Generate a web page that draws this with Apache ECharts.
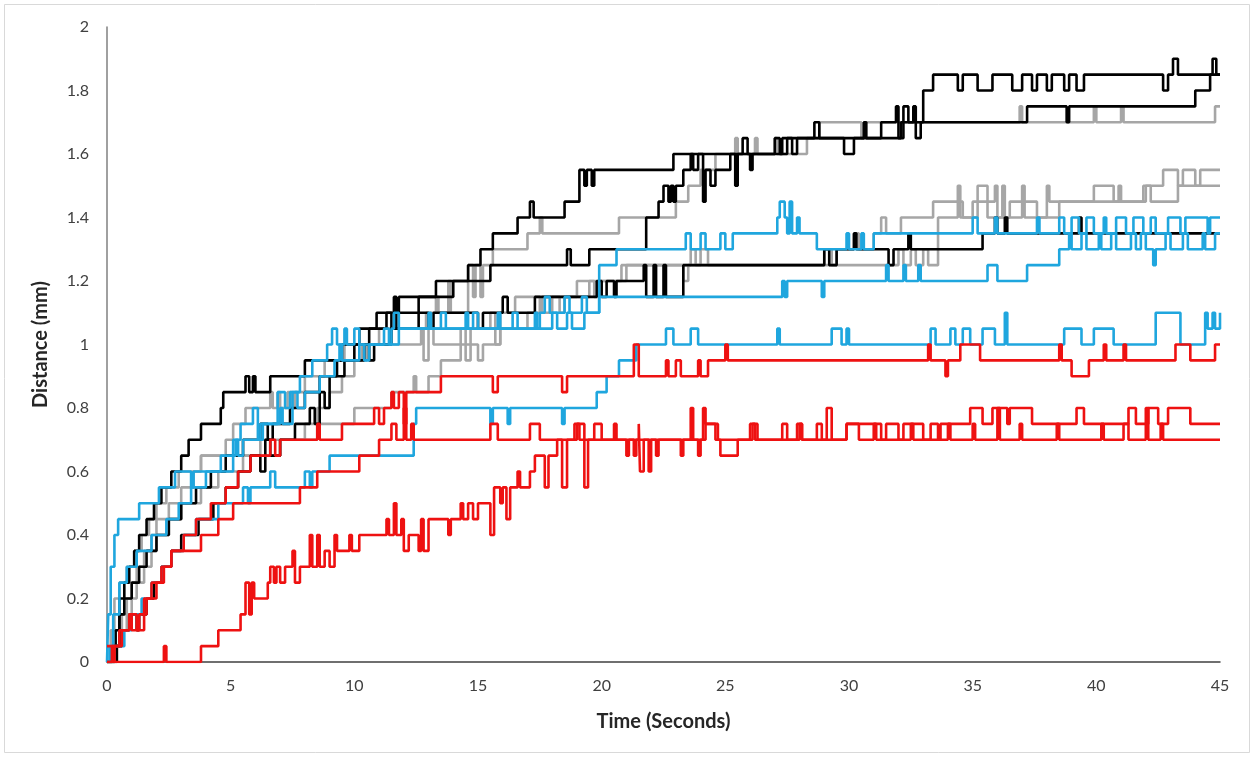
<!DOCTYPE html>
<html>
<head>
<meta charset="utf-8">
<script src="https://cdn.jsdelivr.net/npm/echarts@6/dist/echarts.min.js"></script>
<style>
  html, body { margin: 0; padding: 0; background: #fff; }
  #main { width: 1254px; height: 757px; }
</style>
</head>
<body>
<div id="main"></div>
<script>
// axis ticks
var xTicks = [0, 5, 10, 15, 20, 25, 30, 35, 40, 45];
var yTicks = [0, 0.2, 0.4, 0.6, 0.8, 1, 1.2, 1.4, 1.6, 1.8, 2];

// each run: [time (s), distance (mm)] at the moments the value changes
var black1 = [[0,0],[0.2,0.05],[0.35,0.1],[0.5,0.2],[0.7,0.25],[0.9,0.3],[1.1,0.35],[1.3,0.4],[1.6,0.45],[1.9,0.5],[2.2,0.55],[2.6,0.6],[3.0,0.65],[3.3,0.7],[3.8,0.75],[4.6,0.8],[4.7,0.85],[5.6,0.9],[5.75,0.85],[5.9,0.9],[6.0,0.85],[6.6,0.9],[8.0,0.95],[9.5,1.0],[10.2,1.05],[10.9,1.1],[11.6,1.15],[11.7,1.1],[11.8,1.15],[13.3,1.2],[14.6,1.25],[15.1,1.3],[15.6,1.35],[16.6,1.4],[17.1,1.45],[17.25,1.4],[18.5,1.45],[19.1,1.55],[19.3,1.5],[19.4,1.55],[19.6,1.5],[19.7,1.55],[22.9,1.6],[25.7,1.65],[25.9,1.6],[27.3,1.65],[28.6,1.7],[28.8,1.65],[29.8,1.6],[30.2,1.65],[30.6,1.7],[30.7,1.65],[32.1,1.7],[33.0,1.8],[33.4,1.85],[34.4,1.8],[34.6,1.85],[35.2,1.8],[35.8,1.85],[36.6,1.8],[37.0,1.85],[37.4,1.8],[37.6,1.85],[38.0,1.8],[38.2,1.85],[38.7,1.8],[38.9,1.85],[39.2,1.8],[39.5,1.85],[42.7,1.8],[42.9,1.85],[43.1,1.9],[43.3,1.85],[44.7,1.9],[44.85,1.85],[45,1.85]];
var black2 = [[0,0],[0.3,0.05],[0.5,0.15],[0.7,0.2],[1.0,0.25],[1.3,0.3],[1.6,0.35],[2.0,0.4],[2.5,0.45],[3.0,0.5],[3.6,0.55],[4.2,0.6],[4.8,0.65],[5.5,0.7],[6.2,0.75],[6.5,0.7],[6.7,0.75],[7.4,0.8],[8.0,0.85],[8.6,0.9],[9.3,0.95],[10.0,1.0],[10.6,1.05],[11.3,1.1],[11.5,1.05],[11.7,1.1],[12.6,1.15],[14.0,1.2],[15.5,1.25],[18.6,1.3],[18.75,1.25],[19.5,1.3],[21.8,1.4],[22.3,1.45],[22.5,1.5],[22.7,1.45],[22.8,1.5],[22.9,1.45],[23.0,1.5],[23.3,1.55],[23.6,1.6],[23.7,1.55],[23.9,1.6],[24.1,1.45],[24.2,1.55],[24.4,1.5],[24.6,1.55],[25.2,1.6],[25.4,1.5],[25.5,1.6],[26.0,1.55],[26.1,1.6],[27.0,1.65],[27.2,1.6],[27.5,1.65],[27.7,1.6],[27.9,1.65],[31.3,1.7],[31.9,1.75],[32.0,1.65],[32.2,1.75],[32.4,1.7],[32.6,1.75],[32.7,1.65],[32.9,1.7],[37.2,1.75],[38.8,1.7],[38.9,1.75],[44.0,1.8],[44.6,1.85],[45,1.85]];
var black3 = [[0,0],[0.4,0.05],[0.6,0.1],[0.9,0.15],[1.2,0.1],[1.3,0.15],[1.6,0.2],[1.9,0.25],[2.2,0.3],[2.6,0.35],[3.0,0.4],[3.7,0.45],[4.3,0.5],[4.8,0.55],[5.3,0.6],[5.8,0.65],[6.2,0.6],[6.4,0.7],[6.6,0.65],[7.0,0.7],[7.6,0.75],[8.2,0.8],[8.4,0.75],[8.6,0.85],[8.8,0.8],[9.0,0.9],[9.6,0.95],[10.4,1.0],[10.6,0.95],[10.8,1.0],[11.5,1.05],[12.6,1.1],[13.0,1.05],[13.2,1.1],[15.0,1.05],[15.2,1.1],[16.0,1.15],[16.2,1.1],[17.3,1.15],[19.8,1.2],[20.0,1.15],[20.2,1.2],[20.5,1.15],[20.6,1.2],[21.7,1.25],[21.8,1.15],[22.1,1.25],[22.2,1.15],[22.5,1.25],[22.6,1.15],[23.3,1.25],[29.0,1.3],[29.2,1.25],[29.5,1.3],[30.2,1.35],[30.3,1.3],[31.6,1.25],[31.8,1.3],[32.4,1.35],[32.5,1.3],[35.4,1.35],[35.9,1.4],[36.0,1.35],[36.3,1.4],[36.4,1.35],[39.3,1.4],[39.4,1.35],[45,1.35]];

var gray1 = [[0,0],[0.15,0.1],[0.3,0.2],[0.5,0.25],[0.8,0.3],[1.1,0.35],[1.4,0.4],[1.7,0.45],[2.0,0.5],[2.4,0.55],[2.9,0.6],[3.8,0.65],[4.8,0.7],[5.1,0.75],[5.6,0.8],[6.6,0.85],[6.7,0.8],[6.9,0.85],[7.0,0.8],[7.3,0.85],[7.5,0.8],[7.6,0.85],[8.0,0.9],[8.8,0.95],[9.6,1.0],[11.0,1.05],[12.9,1.1],[13.3,1.15],[13.4,1.1],[13.8,1.2],[13.9,1.1],[14.6,1.25],[14.8,1.15],[14.9,1.25],[15.1,1.15],[15.2,1.25],[15.6,1.3],[17.0,1.35],[17.5,1.4],[17.6,1.35],[20.7,1.4],[23.0,1.45],[23.5,1.5],[24.0,1.55],[24.6,1.6],[25.4,1.65],[25.5,1.6],[26.2,1.65],[26.3,1.6],[27.0,1.65],[27.1,1.6],[28.3,1.65],[28.8,1.7],[30.5,1.65],[30.6,1.7],[36.9,1.75],[37.0,1.7],[39.9,1.75],[40.0,1.7],[41.0,1.75],[41.1,1.7],[44.8,1.75],[45,1.75]];
var gray2 = [[0,0],[0.3,0.05],[0.5,0.1],[0.8,0.2],[1.2,0.3],[1.8,0.4],[2.5,0.5],[3.0,0.55],[3.5,0.6],[3.8,0.65],[6.2,0.7],[8.0,0.75],[8.5,0.8],[9.0,0.85],[9.5,0.9],[10.0,0.95],[10.3,1.0],[10.4,0.95],[10.5,1.0],[12.7,1.05],[12.8,0.95],[13.0,1.05],[13.2,1.0],[14.3,1.05],[14.5,0.95],[14.7,1.05],[15.5,1.1],[15.7,1.0],[15.9,1.1],[16.5,1.15],[17.5,1.1],[17.6,1.15],[19.0,1.2],[20.8,1.25],[23.6,1.3],[23.8,1.25],[24.0,1.3],[24.3,1.25],[32.0,1.3],[32.2,1.25],[32.5,1.3],[32.7,1.25],[33.0,1.3],[33.2,1.25],[33.6,1.4],[34.4,1.45],[34.6,1.4],[35.2,1.5],[35.6,1.4],[36.2,1.5],[36.3,1.4],[37.0,1.5],[37.1,1.4],[38.5,1.45],[39.9,1.5],[40.7,1.45],[41.9,1.5],[42.7,1.55],[43.3,1.5],[43.5,1.55],[44.0,1.5],[44.2,1.55],[45,1.55]];
var gray3 = [[0,0],[0.3,0.05],[0.6,0.15],[1.0,0.25],[1.5,0.35],[2.0,0.45],[3.0,0.5],[3.8,0.55],[4.5,0.6],[5.5,0.65],[7.0,0.7],[8.5,0.75],[10.0,0.8],[11.5,0.85],[12.4,0.9],[12.5,0.85],[13.0,0.9],[13.5,0.95],[14.3,1.0],[15.0,0.95],[15.2,1.0],[15.9,1.05],[17.0,1.1],[18.0,1.15],[18.3,1.1],[18.5,1.15],[19.5,1.2],[19.7,1.15],[19.9,1.2],[21.0,1.25],[23.3,1.2],[23.5,1.25],[29.0,1.3],[29.3,1.25],[29.5,1.3],[30.2,1.35],[30.4,1.3],[31.0,1.35],[31.3,1.4],[31.5,1.35],[32.1,1.4],[33.4,1.45],[34.4,1.5],[34.5,1.4],[35.0,1.45],[35.9,1.5],[36.0,1.4],[36.5,1.45],[37.6,1.4],[38.0,1.5],[38.1,1.45],[40.9,1.5],[41.0,1.45],[42.0,1.5],[42.2,1.45],[43.3,1.5],[45,1.5]];

var blue1 = [[0,0],[0.05,0.15],[0.15,0.3],[0.3,0.4],[0.45,0.45],[1.3,0.5],[2.1,0.55],[2.75,0.6],[3.4,0.55],[3.5,0.6],[5.1,0.7],[5.4,0.75],[5.9,0.8],[6.1,0.7],[6.3,0.75],[6.9,0.85],[7.2,0.8],[7.4,0.85],[7.8,0.9],[8.3,0.95],[8.9,1.0],[9.1,1.05],[9.3,1.0],[9.6,1.05],[9.7,1.0],[10.0,1.05],[10.2,1.0],[11.5,1.05],[11.6,1.1],[11.8,1.05],[13.0,1.1],[13.1,1.05],[14.5,1.1],[14.6,1.05],[15.8,1.1],[15.9,1.05],[17.3,1.1],[17.4,1.05],[18.0,1.1],[18.2,1.05],[18.6,1.1],[18.8,1.05],[19.3,1.1],[19.9,1.25],[20.6,1.3],[23.4,1.35],[23.6,1.3],[24.0,1.35],[24.2,1.3],[24.8,1.35],[25.0,1.3],[25.3,1.35],[27.1,1.4],[27.2,1.45],[27.4,1.4],[27.5,1.35],[27.6,1.45],[27.7,1.35],[27.9,1.4],[28.0,1.35],[28.7,1.3],[29.9,1.35],[30.0,1.3],[30.5,1.35],[30.6,1.3],[31.0,1.35],[35.0,1.4],[35.2,1.35],[35.9,1.4],[36.0,1.35],[37.6,1.4],[37.7,1.35],[38.5,1.4],[38.7,1.35],[39.0,1.4],[39.3,1.35],[39.6,1.4],[39.9,1.35],[40.3,1.4],[40.4,1.35],[40.8,1.4],[41.2,1.35],[41.5,1.4],[41.9,1.35],[42.2,1.4],[42.4,1.35],[42.9,1.4],[43.4,1.35],[43.6,1.4],[44.5,1.35],[44.6,1.4],[45,1.4]];
var blue2 = [[0,0],[0.1,0.05],[0.25,0.15],[0.5,0.25],[0.8,0.3],[1.2,0.35],[1.8,0.4],[2.4,0.45],[2.9,0.5],[3.4,0.55],[4.0,0.6],[4.6,0.65],[5.2,0.7],[5.3,0.65],[5.5,0.7],[6.2,0.75],[7.0,0.8],[7.1,0.75],[7.5,0.85],[7.7,0.8],[8.0,0.85],[8.6,0.9],[9.2,0.95],[9.4,1.0],[9.5,0.95],[10.2,1.0],[10.4,0.95],[10.6,1.0],[11.2,1.05],[11.4,1.0],[11.8,1.05],[13.5,1.1],[13.7,1.05],[14.8,1.1],[15.0,1.05],[16.4,1.1],[16.6,1.05],[17.5,1.1],[17.7,1.15],[17.9,1.1],[18.5,1.15],[18.7,1.1],[19.2,1.15],[19.4,1.1],[19.9,1.15],[27.3,1.2],[27.4,1.15],[27.5,1.2],[28.9,1.15],[29.0,1.2],[31.5,1.25],[31.6,1.2],[32.2,1.25],[32.3,1.2],[32.8,1.25],[32.9,1.2],[35.6,1.25],[36.0,1.2],[37.2,1.25],[38.5,1.3],[38.9,1.35],[39.0,1.3],[39.4,1.35],[39.6,1.3],[40.1,1.35],[40.2,1.3],[40.6,1.35],[40.8,1.3],[41.4,1.35],[41.6,1.3],[41.8,1.35],[42.0,1.3],[42.3,1.25],[42.4,1.3],[42.8,1.35],[43.0,1.3],[43.5,1.35],[43.7,1.3],[44.3,1.35],[44.4,1.3],[44.8,1.35],[45,1.35]];
var blue3 = [[0,0],[0.3,0.05],[0.7,0.1],[1.0,0.15],[1.4,0.2],[1.8,0.25],[2.2,0.3],[2.6,0.35],[3.1,0.4],[3.6,0.45],[4.5,0.5],[5.5,0.55],[5.7,0.5],[5.8,0.55],[6.6,0.6],[6.8,0.55],[8.0,0.6],[8.2,0.55],[8.3,0.6],[9.0,0.65],[12.4,0.75],[12.5,0.8],[15.5,0.75],[15.6,0.8],[16.2,0.75],[16.3,0.8],[18.4,0.75],[18.5,0.8],[19.8,0.85],[20.2,0.9],[20.7,0.95],[21.4,1.0],[22.6,1.05],[22.9,1.0],[23.6,1.05],[23.9,1.0],[27.1,1.05],[27.2,1.0],[29.3,1.05],[29.7,1.0],[29.9,1.05],[30.0,1.0],[33.3,1.05],[33.5,1.0],[34.1,1.05],[34.3,1.0],[34.6,1.05],[34.9,1.0],[35.4,1.05],[35.9,1.0],[36.3,1.1],[36.4,1.0],[38.7,1.05],[39.4,1.0],[39.9,1.05],[40.7,1.0],[42.4,1.1],[43.4,1.0],[44.4,1.1],[44.5,1.05],[44.7,1.1],[44.8,1.05],[45,1.1]];

var red1 = [[0,0],[0.3,0.05],[0.6,0.1],[0.9,0.15],[1.2,0.1],[1.3,0.15],[1.6,0.2],[2.0,0.25],[2.3,0.3],[2.6,0.35],[3.1,0.4],[3.6,0.45],[4.2,0.5],[4.8,0.55],[5.3,0.6],[5.8,0.65],[6.6,0.7],[6.8,0.65],[7.0,0.7],[8.5,0.75],[8.6,0.7],[9.5,0.75],[10.8,0.8],[11.0,0.75],[11.2,0.8],[11.5,0.85],[11.6,0.8],[11.8,0.85],[12.0,0.75],[12.1,0.85],[13.5,0.9],[15.6,0.85],[15.8,0.9],[18.4,0.85],[18.6,0.9],[21.3,1.0],[21.5,0.9],[22.6,0.95],[22.7,0.9],[23.0,0.95],[23.2,0.9],[23.9,0.95],[24.0,0.9],[24.3,0.95],[25.0,1.0],[25.1,0.95],[33.2,1.0],[33.3,0.95],[33.9,0.9],[34.0,0.95],[34.5,1.0],[35.3,0.95],[38.5,1.0],[38.6,0.95],[39.0,0.9],[39.7,0.95],[40.3,1.0],[40.4,0.95],[41.1,1.0],[41.2,0.95],[43.2,1.0],[43.8,0.95],[44.8,1.0],[45,1.0]];
var red2 = [[0,0],[0.2,0.05],[0.5,0.1],[0.9,0.15],[1.0,0.1],[1.5,0.2],[1.8,0.25],[2.2,0.3],[2.6,0.35],[3.8,0.4],[4.5,0.45],[5.1,0.5],[7.8,0.55],[8.5,0.6],[10.2,0.65],[11.0,0.7],[11.5,0.75],[11.7,0.7],[12.0,0.8],[12.1,0.7],[12.3,0.75],[12.4,0.7],[15.5,0.75],[15.8,0.7],[17.1,0.75],[17.5,0.7],[19.0,0.75],[19.3,0.7],[20.5,0.75],[20.6,0.7],[21.3,0.65],[21.4,0.7],[24.2,0.75],[24.6,0.7],[26.0,0.75],[26.2,0.7],[27.3,0.75],[27.5,0.7],[28.0,0.75],[28.1,0.7],[29.1,0.8],[29.3,0.7],[29.9,0.75],[31.3,0.7],[31.5,0.75],[32.0,0.7],[32.2,0.75],[33.0,0.7],[33.3,0.75],[33.6,0.7],[33.7,0.75],[34.9,0.8],[35.4,0.75],[35.8,0.8],[36.4,0.75],[36.5,0.8],[37.4,0.75],[39.2,0.8],[39.5,0.75],[41.3,0.8],[41.6,0.75],[42.1,0.8],[42.5,0.75],[42.9,0.8],[43.8,0.75],[45,0.75]];
var red3 = [[0,0.05],[0.3,0],[2.3,0.05],[2.4,0],[3.8,0.05],[4.5,0.1],[5.4,0.15],[5.6,0.25],[5.75,0.15],[5.85,0.25],[5.95,0.2],[6.5,0.25],[6.6,0.3],[6.75,0.25],[6.85,0.3],[7.0,0.25],[7.2,0.3],[7.5,0.35],[7.6,0.25],[7.8,0.3],[8.2,0.4],[8.3,0.3],[8.5,0.4],[8.6,0.3],[8.8,0.35],[9.0,0.3],[9.2,0.4],[9.3,0.35],[9.8,0.4],[9.9,0.35],[10.2,0.4],[11.3,0.45],[11.4,0.4],[11.6,0.5],[11.7,0.4],[11.9,0.45],[12.0,0.35],[12.2,0.4],[12.6,0.35],[12.7,0.45],[12.8,0.35],[13.0,0.45],[13.8,0.4],[13.9,0.45],[14.3,0.5],[14.4,0.45],[14.6,0.5],[14.8,0.45],[15.0,0.5],[15.5,0.4],[15.65,0.55],[15.9,0.5],[16.0,0.55],[16.15,0.45],[16.3,0.55],[16.6,0.6],[16.7,0.55],[17.1,0.6],[17.3,0.65],[17.7,0.55],[17.85,0.65],[18.2,0.7],[18.4,0.55],[18.6,0.7],[18.9,0.75],[19.1,0.7],[19.3,0.55],[19.45,0.7],[19.7,0.75],[20.0,0.7],[21.0,0.65],[21.1,0.7],[21.5,0.75],[21.55,0.6],[21.7,0.7],[21.9,0.6],[22.0,0.7],[22.2,0.65],[22.3,0.7],[23.2,0.65],[23.3,0.7],[23.6,0.8],[23.7,0.7],[23.9,0.65],[24.0,0.7],[24.1,0.8],[24.2,0.75],[24.7,0.7],[24.8,0.65],[25.5,0.7],[26.1,0.75],[26.3,0.7],[27.9,0.75],[28.1,0.7],[28.7,0.75],[28.9,0.7],[29.9,0.75],[30.4,0.7],[31.0,0.75],[31.1,0.7],[32.5,0.75],[32.6,0.7],[34.0,0.75],[34.1,0.7],[35.0,0.75],[35.1,0.7],[36.0,0.8],[36.1,0.7],[36.9,0.75],[37.0,0.7],[38.4,0.75],[38.5,0.7],[40.2,0.75],[40.3,0.7],[41.1,0.75],[41.3,0.7],[42.0,0.8],[42.1,0.7],[42.6,0.75],[42.7,0.7],[45,0.7]];

var GRAY = '#a6a6a6', BLACK = '#000000', BLUE = '#1fa6de', RED = '#ee1111';
var runs = [
  { data: gray1, color: GRAY }, { data: gray2, color: GRAY }, { data: gray3, color: GRAY },
  { data: black1, color: BLACK }, { data: black2, color: BLACK }, { data: black3, color: BLACK },
  { data: blue1, color: BLUE }, { data: blue2, color: BLUE }, { data: blue3, color: BLUE },
  { data: red1, color: RED }, { data: red2, color: RED }, { data: red3, color: RED }
];

var chart = echarts.init(document.getElementById('main'));
var labelFont = 'Lato, "Open Sans", sans-serif';

chart.setOption({
  animation: false,
  backgroundColor: '#fff',
  graphic: [{
    type: 'rect',
    shape: { x: 4.5, y: 4.5, width: 1245, height: 748 },
    style: { fill: 'none', stroke: '#d9d9d9', lineWidth: 1 },
    silent: true
  }],
  grid: { left: 107, right: 34, top: 27, bottom: 95 },
  xAxis: {
    type: 'value',
    min: xTicks[0],
    max: xTicks[xTicks.length - 1],
    interval: 5,
    name: 'Time (Seconds)',
    nameLocation: 'middle',
    nameGap: 50,
    nameTextStyle: { fontFamily: labelFont, fontWeight: 'bold', fontSize: 20, color: '#262626' },
    axisLine: { show: true, lineStyle: { color: '#404040', width: 1.5 } },
    axisTick: { show: false },
    splitLine: { show: false },
    axisLabel: { margin: 16, fontFamily: labelFont, fontSize: 16, color: '#404040' }
  },
  yAxis: {
    type: 'value',
    min: yTicks[0],
    max: yTicks[yTicks.length - 1],
    interval: 0.2,
    name: 'Distance (mm)',
    nameLocation: 'middle',
    nameGap: 56,
    nameTextStyle: { fontFamily: labelFont, fontWeight: 'bold', fontSize: 20, color: '#262626' },
    axisLine: { show: true, lineStyle: { color: '#808080', width: 1.5 } },
    axisTick: { show: false },
    splitLine: { show: false },
    axisLabel: { margin: 18, fontFamily: labelFont, fontSize: 16, color: '#404040' }
  },
  series: runs.map(function (r) {
    return {
      type: 'line',
      step: 'end',
      data: r.data,
      showSymbol: false,
      clip: true,
      lineStyle: { color: r.color, width: 2.6 },
      itemStyle: { color: r.color }
    };
  })
});
</script>
</body>
</html>
